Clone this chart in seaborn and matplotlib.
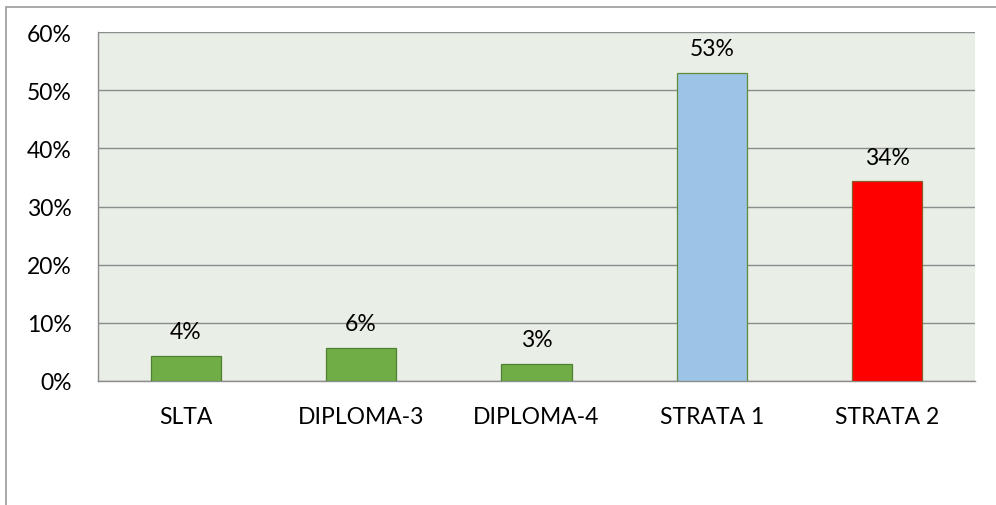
import matplotlib
matplotlib.use("Agg")
import matplotlib.pyplot as plt
import seaborn as sns
import pandas as pd
from matplotlib.patches import Rectangle

# Data
categories = ["SLTA", "DIPLOMA-3", "DIPLOMA-4", "STRATA 1", "STRATA 2"]
values = [4.3, 5.7, 2.9, 52.9, 34.3]
bar_colors = ["#70AD47", "#70AD47", "#70AD47", "#9DC3E6", "#FF0000"]
edge_colors = ["#4F7F30", "#4F7F30", "#4F7F30", "#5E8C3A", "#8A5A2A"]
y_ticks = [0, 10, 20, 30, 40, 50, 60]

df = pd.DataFrame({"category": categories, "value": values})

sns.set_style("white")
plt.rcParams["font.family"] = ["Lato", "DejaVu Sans"]
FS = 16.5

fig = plt.figure(figsize=(9.96, 5.06), dpi=100)
ax = fig.add_axes([98 / 996, 1 - 382 / 506, (975 - 98) / 996, (382 - 33) / 506])

# outer chart border
fig.patches.append(Rectangle((6 / 996, -0.1), 1.2, 1 - 8 / 506 + 0.1,
                             transform=fig.transFigure, fill=False,
                             edgecolor="#9A9A9A", linewidth=1.2))

sns.barplot(data=df, x="category", y="value", hue="category",
            palette=bar_colors, saturation=1, legend=False, width=0.4,
            ax=ax, zorder=3)

for patch, ec in zip(ax.patches, edge_colors):
    patch.set_edgecolor(ec)
    patch.set_linewidth(0.9)

ax.set_facecolor("#E9EEE6")
ax.set_ylim(0, 60)
ax.set_xlim(-0.5, len(categories) - 0.5)
ax.set_yticks(y_ticks)
ax.set_yticklabels([f"{t}%" for t in y_ticks])
ax.yaxis.grid(True, color="#8C8C8C", linewidth=1.0, zorder=0)
ax.set_axisbelow(True)

# category boundary ticks on x axis
ax.set_xticks(range(len(categories)))
ax.set_xticklabels(categories)
ax.set_xticks([i + 0.5 for i in range(-1, len(categories))], minor=True)
ax.tick_params(axis="x", which="major", length=0, pad=18, labelsize=FS, colors="black")
ax.tick_params(axis="x", which="minor", length=8, width=1, color="#8C8C8C", direction="out")
ax.tick_params(axis="y", length=8, width=1, color="#8C8C8C", direction="out",
               labelsize=FS, pad=11, labelcolor="black")
ax.set_xlabel("")
ax.set_ylabel("")

for side in ["top", "right"]:
    ax.spines[side].set_visible(False)
for side in ["left", "bottom"]:
    ax.spines[side].set_color("#8C8C8C")
    ax.spines[side].set_linewidth(1.0)

for i, v in enumerate(values):
    ax.annotate(f"{round(v)}%", xy=(i, v), xytext=(0, 10), textcoords="offset points",
                ha="center", va="bottom", fontsize=FS, color="black")

fig.savefig("out.png", dpi=100)
